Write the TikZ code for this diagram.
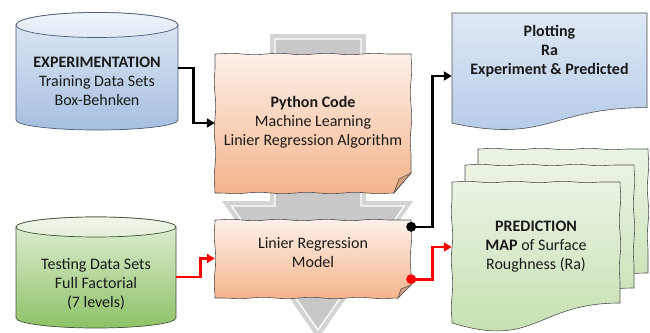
\documentclass[tikz,border=0pt]{standalone}
\usepackage{fontspec}
\setmainfont{Carlito}
\usetikzlibrary{arrows.meta,calc,decorations.pathmorphing}
\definecolor{blueTop}{HTML}{E0E9F5}
\definecolor{blueBot}{HTML}{A6BFE0}
\definecolor{greenTop}{HTML}{E3EFD9}
\definecolor{greenBot}{HTML}{8DC266}
\definecolor{peachTop}{HTML}{FDF1EA}
\definecolor{peachBot}{HTML}{F4B48B}
\definecolor{plotTop}{HTML}{DFE8F4}
\definecolor{plotBot}{HTML}{B2C9E8}
\definecolor{predTop}{HTML}{EBF4E4}
\definecolor{predBot}{HTML}{C2DEAB}
\definecolor{cylB}{HTML}{4B5B78}
\definecolor{cylG}{HTML}{405536}
\definecolor{edgec}{HTML}{505050}
\definecolor{foldc}{HTML}{D9A07E}
\definecolor{arrowout}{HTML}{D4D4D4}
\definecolor{arrowin}{HTML}{C8C8C8}
\definecolor{textc}{HTML}{1A1A1A}
\tikzset{
  frame/.style={inner sep=0pt, minimum width=#1},
  txt/.style={align=center, inner sep=0pt, text=textc, font=\fontsize{16}{19}\selectfont},
  wavy/.style={decoration={snake, amplitude=0.7pt, segment length=48pt}},
  boxline/.style={draw=edgec, line width=0.6pt},
  conn/.style={line width=2.6pt, -{Triangle[length=8pt,width=9pt]}},
  dotc/.style={circle, fill=#1, inner sep=0pt, minimum size=10pt}
}
\begin{document}
\begin{tikzpicture}[x=1pt,y=-1pt]
\useasboundingbox (0,0) rectangle (650,332);
% background arrow
\fill[arrowout] (270,34) -- (366,34) -- (366,201) -- (413,201) -- (318,339) -- (222,201) -- (270,201) -- cycle;
\filldraw[fill=arrowin, draw=white, line width=1.3pt] (275,39) -- (361,39) -- (361,206) -- (404.4,206) -- (318,330) -- (231.6,206) -- (275,206) -- cycle;
% cylinder 1
\shade[top color=blueTop, bottom color=blueBot, draw=cylB, line width=0.7pt]
  (16,25) -- (16,120) .. controls (16,125.5) and (52.3,130) .. (97,130) .. controls (141.7,130) and (178,125.5) .. (178,120) -- (178,25) .. controls (178,18.1) and (141.7,12.5) .. (97,12.5) .. controls (52.3,12.5) and (16,18.1) .. (16,25) -- cycle;
\shade[top color=blueTop!50!white, bottom color=blueTop, draw=cylB, line width=0.7pt] (97,25) ellipse [x radius=81pt, y radius=12.5pt];
% cylinder 2
\shade[top color=greenTop, bottom color=greenBot, draw=cylG, line width=0.7pt]
  (16,227) -- (16,318) .. controls (16,323.5) and (51.8,328) .. (96,328) .. controls (140.2,328) and (176,323.5) .. (176,318) -- (176,227) .. controls (176,221.5) and (140.2,217) .. (96,217) .. controls (51.8,217) and (16,221.5) .. (16,227) -- cycle;
\shade[top color=greenTop!50!white, bottom color=greenTop, draw=cylG, line width=0.7pt] (96,227) ellipse [x radius=80pt, y radius=10pt];
% python box
\shade[top color=peachTop, bottom color=peachBot, boxline, wavy]
  (215,54) decorate{-- (411,54)} decorate{-- (411,173)} -- (394,193) decorate{-- (215,193)} decorate{-- (215,54)} -- cycle;
\filldraw[fill=foldc, boxline] (411,173) -- (394,193) -- (399,179) -- cycle;
% model box
\shade[top color=peachTop, bottom color=peachBot, boxline, wavy]
  (215,220) decorate{-- (411,220)} decorate{-- (411,285)} -- (398,298) decorate{-- (215,298)} decorate{-- (215,220)} -- cycle;
\filldraw[fill=foldc, boxline] (411,285) -- (398,298) -- (401,289) -- cycle;
% plot document
\shade[top color=plotTop, bottom color=plotBot, boxline]
  (452,13) -- (647,13) -- (647,107.6) .. controls (549.5,107.6) and (549.5,143.7) .. (452,123.2) -- cycle;
% prediction multi-document
\shade[top color=predTop, bottom color=predBot, boxline, wavy]
  (478,149) decorate{-- (648,149)} decorate{-- (648,273)} .. controls (563,273) and (563,320.2) .. (478,293.4) decorate{-- (478,149)} -- cycle;
\shade[top color=predTop, bottom color=predBot, boxline, wavy]
  (465,165) decorate{-- (634,165)} decorate{-- (634,288)} .. controls (549.5,288) and (549.5,334.9) .. (465,308.3) decorate{-- (465,165)} -- cycle;
\shade[top color=predTop, bottom color=predBot, boxline, wavy]
  (452,182) decorate{-- (620,182)} decorate{-- (620,303)} .. controls (536,303) and (536,349.1) .. (452,322.9) decorate{-- (452,182)} -- cycle;
% frames
\node[frame=162pt, minimum height=112pt] (exp) at (97,68) {};
\node[frame=196pt, minimum height=140pt] (py) at (313,123) {};
\node[frame=195pt, minimum height=110pt] (plot) at (549.5,68) {};
\node[frame=160pt, minimum height=100pt] (test) at (96,277) {};
\node[frame=196pt, minimum height=79pt] (model) at (313,258.5) {};
\node[frame=168pt, minimum height=130pt] (pred) at (536,247) {};
% texts
\node[txt] (exp-txt) at (97,81) {\textbf{EXPERIMENTATION}\\Training Data Sets\\Box-Behnken};
\node[txt] (py-txt) at (313,122) {\textbf{Python Code}\\Machine Learning\\Linier Regression Algorithm};
\node[txt] (plot-txt) at (549.5,51) {\textbf{Plotting}\\\textbf{Ra}\\\textbf{Experiment \& Predicted}};
\node[txt] (test-txt) at (96,284) {Testing Data Sets\\Full Factorial\\(7 levels)};
\node[txt] (model-txt) at (313,252.5) {Linier Regression\\Model};
\node[txt] (pred-txt) at (536,247) {\textbf{PREDICTION}\\\textbf{MAP} of Surface\\Roughness (Ra)};
% connectors
\draw[conn, black] (exp.east) -- ++(15,0) |- (py.west);
\draw[conn, red] (test.east) -- ++(24,0) |- (model.west);
\node[dotc=black] (d1) at ($(model.north east)+(0,8)$) {};
\node[dotc=red] (d2) at ($(model.south east)+(0,-19)$) {};
\draw[conn, black] (d1.center) -- ++(21,0) |- ($(plot.west)+(0,8)$);
\draw[conn, red] (d2.center) -- ++(21,0) |- (pred.west);
\end{tikzpicture}
\end{document}
